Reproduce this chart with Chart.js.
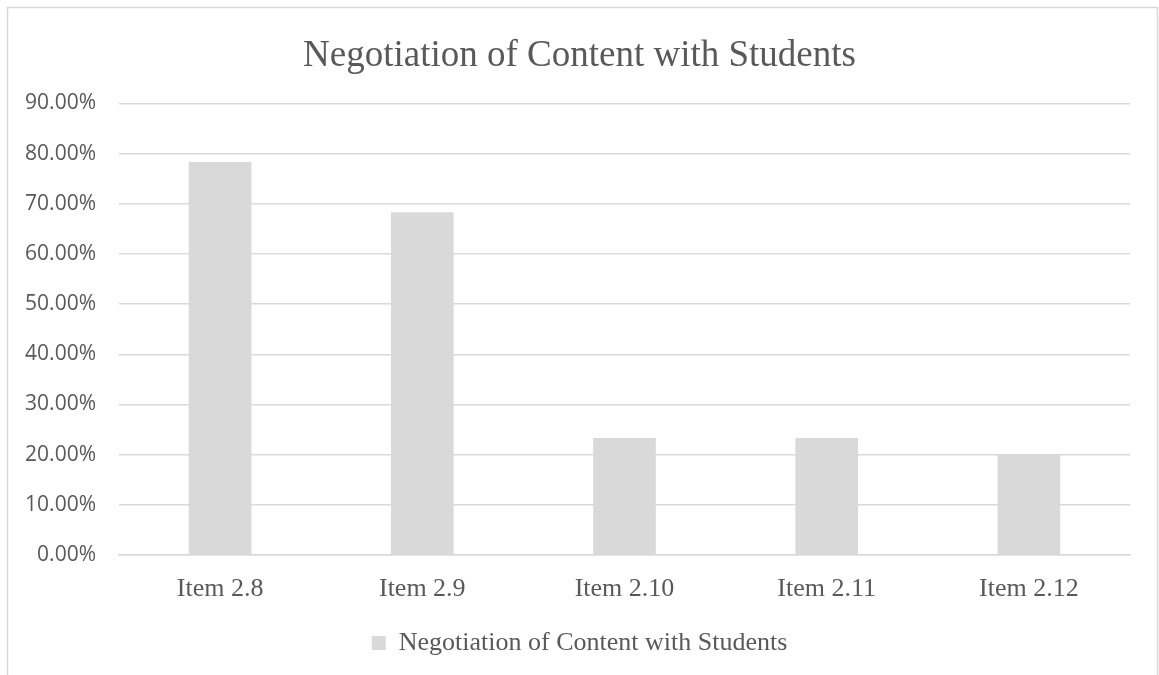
<!DOCTYPE html>
<html>
<head>
<meta charset="utf-8">
<script src="https://cdn.jsdelivr.net/npm/chart.js@4"></script>
<style>
  html, body { margin: 0; padding: 0; background: #fff; }
  #wrap { width: 1159px; height: 675px; position: relative; }
</style>
</head>
<body>
<div id="wrap"><canvas id="negotiationChart" width="1159" height="675"></canvas></div>
<script>
// data
var categories = ['Item 2.8', 'Item 2.9', 'Item 2.10', 'Item 2.11', 'Item 2.12'];
var seriesName = 'Negotiation of Content with Students';
var seriesValues = [78.3, 68.3, 23.3, 23.3, 20.0];
var yTicks = [0, 10, 20, 30, 40, 50, 60, 70, 80, 90];

var textColor = '#595959';
var barColor = '#d9d9d9';
var serif = '"Liberation Serif", "Times New Roman", serif';

// light frame round the whole chart, like the office export
var framePlugin = {
    id: 'frame',
    beforeDraw: function(chart) {
        var ctx = chart.ctx;
        ctx.save();
        ctx.fillStyle = '#fff';
        ctx.fillRect(0, 0, chart.width, chart.height);
        ctx.strokeStyle = '#d9d9d9';
        ctx.lineWidth = 1.5;
        ctx.strokeRect(7.5, 7.5, chart.width - 9, chart.height + 20);
        ctx.restore();
    }
};

var chartNegotiation = new Chart(document.getElementById('negotiationChart'), {
    type: 'bar',
    data: {
        labels: categories,
        datasets: [{
            label: seriesName,
            data: seriesValues,
            backgroundColor: barColor,
            borderWidth: 0,
            categoryPercentage: 1.0,
            barPercentage: 0.31
        }]
    },
    options: {
        responsive: false,
        animation: false,
        devicePixelRatio: 1,
        layout: { padding: { left: 0, right: 0, top: 0, bottom: 9 } },
        plugins: {
            title: {
                display: true,
                text: seriesName,
                color: textColor,
                font: { family: serif, size: 37, weight: 'normal' },
                padding: { top: 34, bottom: 25 }
            },
            legend: {
                display: true,
                position: 'bottom',
                labels: {
                    color: textColor,
                    font: { family: serif, size: 26 },
                    boxWidth: 14,
                    boxHeight: 14,
                    padding: 10
                }
            },
            tooltip: { enabled: false }
        },
        scales: {
            x: {
                grid: { display: false, drawTicks: false },
                border: { display: true, color: '#d9d9d9', width: 1.5 },
                ticks: {
                    color: textColor,
                    font: { family: serif, size: 26 },
                    padding: 19,
                    maxRotation: 0
                },
                afterFit: function(scale) { scale.height = 65; }
            },
            y: {
                min: 0,
                max: 90,
                grid: { color: '#d9d9d9', lineWidth: 1.5, drawTicks: false },
                border: { display: false },
                afterBuildTicks: function(scale) {
                    scale.ticks = yTicks.map(function(v) { return { value: v }; });
                },
                ticks: {
                    color: textColor,
                    font: { family: '"Open Sans", sans-serif', size: 21 },
                    padding: 23,
                    callback: function(v) { return v.toFixed(2) + '%'; }
                },
                afterFit: function(scale) { scale.width = 119; }
            },
            // empty right-hand spacer so the title and legend centre on the whole frame
            spacer: {
                type: 'linear',
                position: 'right',
                grid: { display: false, drawTicks: false },
                border: { display: false },
                ticks: { display: false },
                afterFit: function(scale) { scale.width = 29; }
            }
        }
    },
    plugins: [framePlugin]
});
</script>
</body>
</html>
